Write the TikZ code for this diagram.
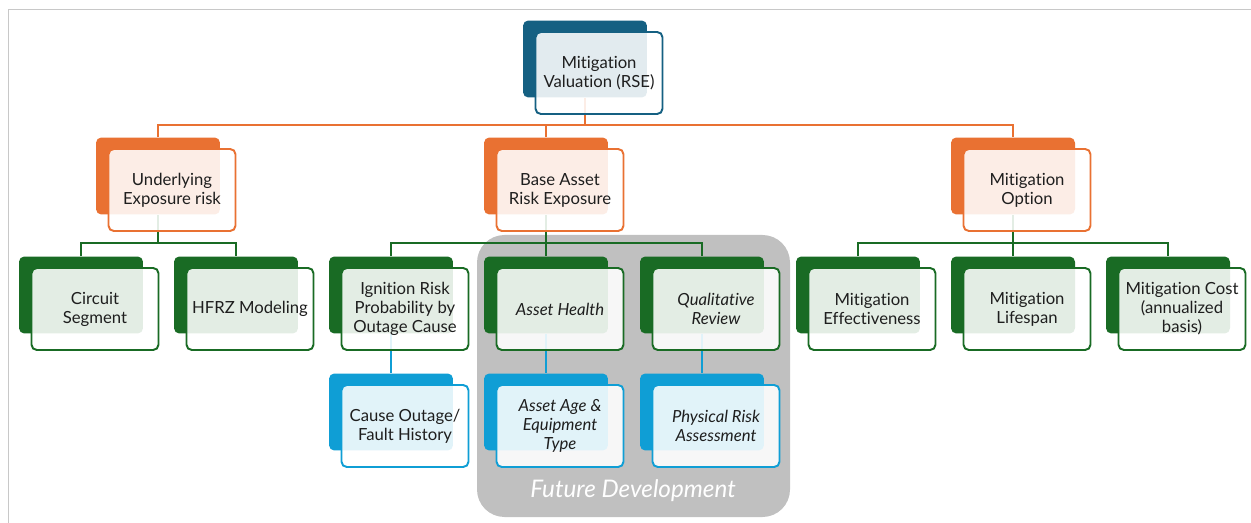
\documentclass[tikz,border=0pt]{standalone}
\usepackage{fontspec}
\setmainfont{Lato}[Ligatures={NoCommon,NoDiscretionary}]
\usepackage{tikz}
\definecolor{cTeal}{HTML}{156082}
\definecolor{cOrange}{HTML}{E97132}
\definecolor{cGreen}{HTML}{196B24}
\definecolor{cBlue}{HTML}{0F9ED5}
\definecolor{cPanel}{HTML}{C0C0C0}
\definecolor{cFrame}{HTML}{C8C8C8}
\definecolor{cText}{HTML}{1E1E1E}
\pgfdeclarelayer{panel}
\pgfdeclarelayer{links}
\pgfsetlayers{panel,links,main}

\begin{document}
\begin{tikzpicture}[x=0.02cm, y=-0.02cm,
    back/.style={rounded corners=3pt, minimum width=2.48cm, minimum height=1.54cm, inner sep=0pt},
    front/.style={draw, line width=1.1pt, rounded corners=3pt, fill=white, fill opacity=0.88,
      text opacity=1, text=cText, minimum width=2.54cm, minimum height=1.64cm, inner sep=0pt,
      align=center, font=\fontsize{9.5}{10.8}\selectfont},
    link/.style={line width=1.1pt}]
    \useasboundingbox (0,0) rectangle (1251,523);
    % Sizes
    \pgfmathsetmacro{\dx}{14}
    \pgfmathsetmacro{\dy}{14}

    % frame
    \draw[cFrame, line width=1.1pt] (8.5,523) -- (8.5,9.5) -- (1251,9.5);

    % top
    \node[back, fill=cTeal] (topB) at (585,59) {};
    \node[front, draw=cTeal] (top) at ([shift={(\dx,\dy)}]topB) {Mitigation\\Valuation (RSE)};

    % orange tier
    \node[back, fill=cOrange] (uerB) at (158,176) {};
    \node[front, draw=cOrange] (uer) at ([shift={(\dx,\dy)}]uerB) {Underlying\\Exposure risk};
    \node[back, fill=cOrange] (baseB) at (546,176) {};
    \node[front, draw=cOrange] (base) at ([shift={(\dx,\dy)}]baseB) {Base Asset\\Risk Exposure};
    \node[back, fill=cOrange] (moB) at (1013,176) {};
    \node[front, draw=cOrange] (mo) at ([shift={(\dx,\dy)}]moB) {Mitigation\\Option};

    % green tier
    \node[back, fill=cGreen] (csB) at (81,295) {};
    \node[front, draw=cGreen] (cs) at ([shift={(\dx,\dy)}]csB) {Circuit\\Segment};
    \node[back, fill=cGreen] (hfB) at (236,295) {};
    \node[front, draw=cGreen] (hf) at ([shift={(\dx,\dy)}]hfB) {HFRZ Modeling};
    \node[back, fill=cGreen] (igB) at (391,295) {};
    \node[front, draw=cGreen] (ig) at ([shift={(\dx,\dy)}]igB) {Ignition Risk\\Probability by\\Outage Cause};
    \node[back, fill=cGreen] (ahB) at (546,295) {};
    \node[front, draw=cGreen] (ah) at ([shift={(\dx,\dy)}]ahB) {\itshape Asset Health};
    \node[back, fill=cGreen] (qrB) at (702,295) {};
    \node[front, draw=cGreen] (qr) at ([shift={(\dx,\dy)}]qrB) {\itshape Qualitative\\\itshape Review};
    \node[back, fill=cGreen] (meB) at (858,295) {};
    \node[front, draw=cGreen] (me) at ([shift={(\dx,\dy)}]meB) {Mitigation\\Effectiveness};
    \node[back, fill=cGreen] (mlB) at (1013,295) {};
    \node[front, draw=cGreen] (ml) at ([shift={(\dx,\dy)}]mlB) {Mitigation\\Lifespan};
    \node[back, fill=cGreen] (mcB) at (1168,295) {};
    \node[front, draw=cGreen] (mc) at ([shift={(\dx,\dy)}]mcB) {Mitigation Cost\\(annualized\\basis)};

    % blue tier
    \node[back, fill=cBlue] (coB) at (391,412) {};
    \node[front, draw=cBlue] (co) at ([shift={(\dx,\dy)}]coB) {Cause Outage/\\Fault History};
    \node[back, fill=cBlue] (aaB) at (546,412) {};
    \node[front, draw=cBlue] (aa) at ([shift={(\dx,\dy)}]aaB) {\itshape Asset Age \&\\\itshape Equipment\\\itshape Type};
    \node[back, fill=cBlue] (prB) at (702,412) {};
    \node[front, draw=cBlue] (pr) at ([shift={(\dx,\dy)}]prB) {\itshape Physical Risk\\\itshape Assessment};

    % future development panel
    \begin{pgfonlayer}{panel}
      \fill[cPanel, rounded corners=0.55cm] (477,235) rectangle (790,517);
      \node[text=white, font=\fontsize{13.8}{15}\selectfont\itshape] (fdev) at (633,491) {Future Development};
    \end{pgfonlayer}

    % draw diagram
    \begin{pgfonlayer}{links}
      \coordinate (obus) at (0,125);
      \coordinate (gbus) at (0,243);
      \draw[link, cOrange] (topB) -- (topB |- obus);
      \draw[link, cOrange] (uerB) -- (uerB |- obus) -- (moB |- obus) -- (moB);
      \draw[link, cOrange] (baseB) -- (baseB |- obus);
      \draw[link, cGreen] (uerB) -- (uerB |- gbus);
      \draw[link, cGreen] (csB) -- (csB |- gbus) -- (hfB |- gbus) -- (hfB);
      \draw[link, cGreen] (baseB) -- (baseB |- gbus);
      \draw[link, cGreen] (igB) -- (igB |- gbus) -- (qrB |- gbus) -- (qrB);
      \draw[link, cGreen] (ahB) -- (ahB |- gbus);
      \draw[link, cGreen] (moB) -- (moB |- gbus);
      \draw[link, cGreen] (meB) -- (meB |- gbus) -- (mcB |- gbus) -- (mcB);
      \draw[link, cGreen] (mlB) -- (mlB |- gbus);
      \draw[link, cBlue] (igB) -- (coB);
      \draw[link, cBlue] (ahB) -- (aaB);
      \draw[link, cBlue] (qrB) -- (prB);
    \end{pgfonlayer}
\end{tikzpicture}
\end{document}
